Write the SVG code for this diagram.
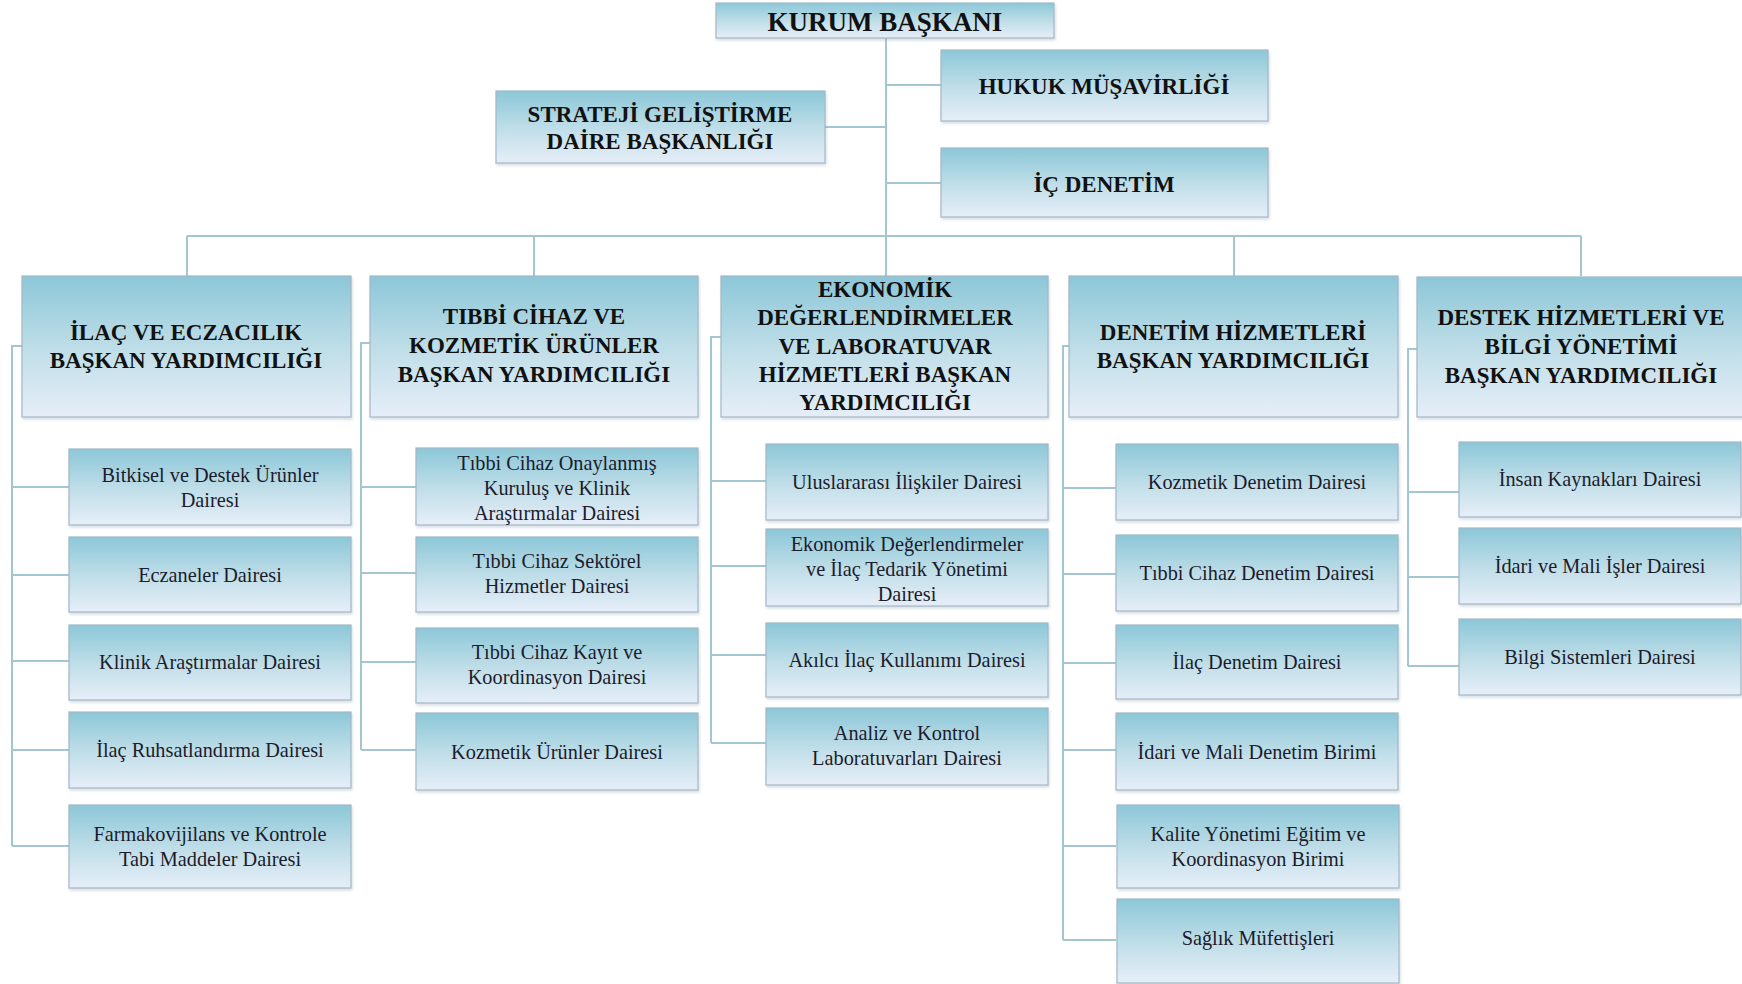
<svg xmlns="http://www.w3.org/2000/svg" width="1742" height="984" viewBox="0 0 1742 984">
<defs>
<linearGradient id="g" x1="0" y1="0" x2="0" y2="1">
<stop offset="0" stop-color="#8cc7d8"/>
<stop offset="0.55" stop-color="#c2dfe9"/>
<stop offset="1" stop-color="#e6eef8"/>
</linearGradient>
<filter id="sh" x="-5%" y="-5%" width="110%" height="115%">
<feDropShadow dx="1" dy="2" stdDeviation="1.5" flood-color="#8aa0ad" flood-opacity="0.35"/>
</filter>
</defs>
<style>
.b{fill:url(#g);stroke:#a3b8c6;stroke-width:1.2;filter:url(#sh)}
.h{font-family:"Liberation Serif","Times New Roman",serif;font-weight:bold;font-size:23px;fill:#111;text-anchor:middle}
.k{font-size:27px}
.c{font-family:"Liberation Serif","Times New Roman",serif;font-size:20.3px;fill:#1c1c2c;text-anchor:middle}
.l{fill:none;stroke:#a4c6d0;stroke-width:2}
</style>
<rect width="1742" height="984" fill="#ffffff"/>
<g id="connectors" class="l">
<path d="M886 38V276"/>
<path d="M886 85H941M825 127H886M886 183H941"/>
<path d="M187 236H1581M187 236V276M534 236V276M1234 236V276M1581 236V276"/>
<path d="M22 346H12V846M12 487H69M12 575H69M12 661H69M12 750H69M12 846H69"/>
<path d="M370 343H361V750M361 487H416M361 573H416M361 662H416M361 750H416"/>
<path d="M721 337H711V743M711 481H766M711 566H766M711 655H766M711 743H766"/>
<path d="M1069 346H1063V940M1063 488H1116M1063 574H1116M1063 663H1116M1063 750H1116M1063 846H1116M1063 940H1116"/>
<path d="M1417 349H1408V666M1408 492H1459M1408 577H1459M1408 666H1459"/>
</g>
<g id="kurum"><rect class="b" x="716" y="3" width="338" height="35"/><text class="h k" x="885" y="31">KURUM BAŞKANI</text></g>
<g id="hukuk"><rect class="b" x="941" y="50" width="327" height="71"/><text class="h" x="1104" y="94">HUKUK MÜŞAVİRLİĞİ</text></g>
<g id="strateji"><rect class="b" x="496" y="91" width="329" height="72"/><text class="h" x="660" y="122">STRATEJİ GELİŞTİRME</text><text class="h" x="660" y="149">DAİRE BAŞKANLIĞI</text></g>
<g id="icdenetim"><rect class="b" x="941" y="148" width="327" height="69"/><text class="h" x="1104" y="192">İÇ DENETİM</text></g>

<g id="ilac"><rect class="b" x="22" y="276" width="329" height="141"/><text class="h" x="186" y="340">İLAÇ VE ECZACILIK</text><text class="h" x="186" y="368">BAŞKAN YARDIMCILIĞI</text></g>
<g id="tibbi"><rect class="b" x="370" y="276" width="328" height="141"/><text class="h" x="534" y="324">TIBBİ CİHAZ VE</text><text class="h" x="534" y="353">KOZMETİK ÜRÜNLER</text><text class="h" x="534" y="382">BAŞKAN YARDIMCILIĞI</text></g>
<g id="ekonomik"><rect class="b" x="721" y="276" width="327" height="141"/><text class="h" x="885" y="297">EKONOMİK</text><text class="h" x="885" y="325">DEĞERLENDİRMELER</text><text class="h" x="885" y="354">VE LABORATUVAR</text><text class="h" x="885" y="382">HİZMETLERİ BAŞKAN</text><text class="h" x="885" y="410">YARDIMCILIĞI</text></g>
<g id="denetim"><rect class="b" x="1069" y="276" width="329" height="141"/><text class="h" x="1233" y="340">DENETİM HİZMETLERİ</text><text class="h" x="1233" y="368">BAŞKAN YARDIMCILIĞI</text></g>
<g id="destek"><rect class="b" x="1417" y="277" width="330" height="140"/><text class="h" x="1581" y="325">DESTEK HİZMETLERİ VE</text><text class="h" x="1581" y="354">BİLGİ YÖNETİMİ</text><text class="h" x="1581" y="383">BAŞKAN YARDIMCILIĞI</text></g>

<g id="c1-1"><rect class="b" x="69" y="449" width="282" height="76"/><text class="c" x="210" y="482">Bitkisel ve Destek Ürünler</text><text class="c" x="210" y="507">Dairesi</text></g>
<g id="c1-2"><rect class="b" x="69" y="537" width="282" height="75"/><text class="c" x="210" y="582">Eczaneler Dairesi</text></g>
<g id="c1-3"><rect class="b" x="69" y="625" width="282" height="75"/><text class="c" x="210" y="669">Klinik Araştırmalar Dairesi</text></g>
<g id="c1-4"><rect class="b" x="69" y="712" width="282" height="76"/><text class="c" x="210" y="757">İlaç Ruhsatlandırma Dairesi</text></g>
<g id="c1-5"><rect class="b" x="69" y="805" width="282" height="83"/><text class="c" x="210" y="841">Farmakovijilans ve Kontrole</text><text class="c" x="210" y="866">Tabi Maddeler Dairesi</text></g>

<g id="c2-1"><rect class="b" x="416" y="448" width="282" height="77"/><text class="c" x="557" y="470">Tıbbi Cihaz Onaylanmış</text><text class="c" x="557" y="495">Kuruluş ve Klinik</text><text class="c" x="557" y="520">Araştırmalar Dairesi</text></g>
<g id="c2-2"><rect class="b" x="416" y="537" width="282" height="75"/><text class="c" x="557" y="568">Tıbbi Cihaz Sektörel</text><text class="c" x="557" y="593">Hizmetler Dairesi</text></g>
<g id="c2-3"><rect class="b" x="416" y="628" width="282" height="75"/><text class="c" x="557" y="659">Tıbbi Cihaz Kayıt ve</text><text class="c" x="557" y="684">Koordinasyon Dairesi</text></g>
<g id="c2-4"><rect class="b" x="416" y="713" width="282" height="77"/><text class="c" x="557" y="759">Kozmetik Ürünler Dairesi</text></g>

<g id="c3-1"><rect class="b" x="766" y="444" width="282" height="76"/><text class="c" x="907" y="489">Uluslararası İlişkiler Dairesi</text></g>
<g id="c3-2"><rect class="b" x="766" y="529" width="282" height="77"/><text class="c" x="907" y="551">Ekonomik Değerlendirmeler</text><text class="c" x="907" y="576">ve İlaç Tedarik Yönetimi</text><text class="c" x="907" y="601">Dairesi</text></g>
<g id="c3-3"><rect class="b" x="766" y="623" width="282" height="74"/><text class="c" x="907" y="667">Akılcı İlaç Kullanımı Dairesi</text></g>
<g id="c3-4"><rect class="b" x="766" y="708" width="282" height="77"/><text class="c" x="907" y="740">Analiz ve Kontrol</text><text class="c" x="907" y="765">Laboratuvarları Dairesi</text></g>

<g id="c4-1"><rect class="b" x="1116" y="444" width="282" height="76"/><text class="c" x="1257" y="489">Kozmetik Denetim Dairesi</text></g>
<g id="c4-2"><rect class="b" x="1116" y="535" width="282" height="76"/><text class="c" x="1257" y="580">Tıbbi Cihaz Denetim Dairesi</text></g>
<g id="c4-3"><rect class="b" x="1116" y="625" width="282" height="74"/><text class="c" x="1257" y="669">İlaç Denetim Dairesi</text></g>
<g id="c4-4"><rect class="b" x="1116" y="713" width="282" height="77"/><text class="c" x="1257" y="759">İdari ve Mali Denetim Birimi</text></g>
<g id="c4-5"><rect class="b" x="1117" y="805" width="282" height="83"/><text class="c" x="1258" y="841">Kalite Yönetimi Eğitim ve</text><text class="c" x="1258" y="866">Koordinasyon Birimi</text></g>
<g id="c4-6"><rect class="b" x="1117" y="899" width="282" height="84"/><text class="c" x="1258" y="945">Sağlık Müfettişleri</text></g>

<g id="c5-1"><rect class="b" x="1459" y="442" width="282" height="75"/><text class="c" x="1600" y="486">İnsan Kaynakları Dairesi</text></g>
<g id="c5-2"><rect class="b" x="1459" y="528" width="282" height="76"/><text class="c" x="1600" y="573">İdari ve Mali İşler Dairesi</text></g>
<g id="c5-3"><rect class="b" x="1459" y="619" width="282" height="76"/><text class="c" x="1600" y="664">Bilgi Sistemleri Dairesi</text></g>
</svg>
